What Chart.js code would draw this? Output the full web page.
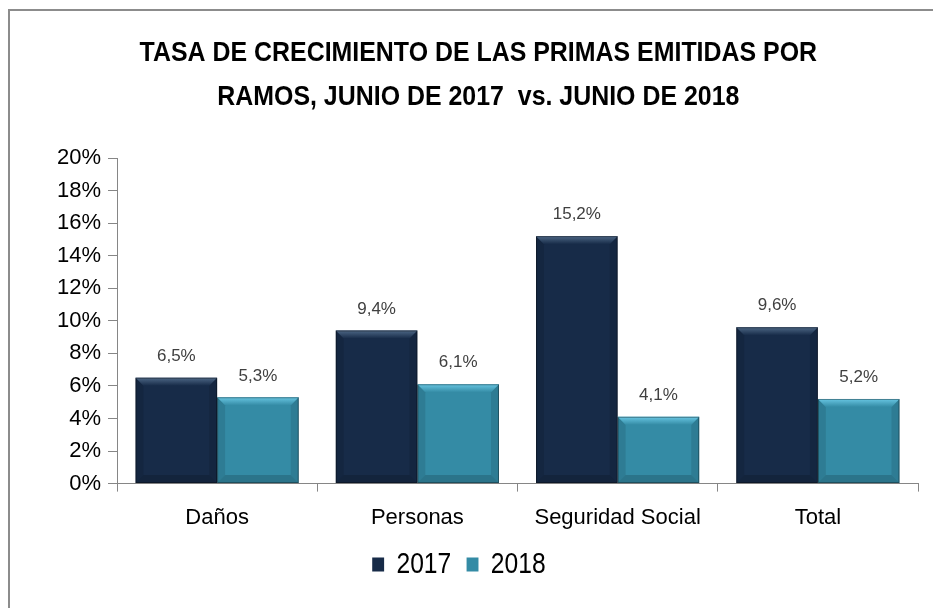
<!DOCTYPE html>
<html>
<head>
<meta charset="utf-8">
<script src="https://cdn.jsdelivr.net/npm/chart.js@4"></script>
<style>
  html, body { margin: 0; padding: 0; background: #fff; overflow: hidden; }
  #frame { position: absolute; left: 8px; top: 9px; width: 1000px; height: 700px; border: 2px solid #8c8c8c; }
  #wrap { position: absolute; left: 0; top: 0; width: 933px; height: 608px; }
</style>
</head>
<body>
<div id="frame"></div>
<div id="wrap"><canvas id="chart"></canvas></div>
<script>
// datos
const categorias = ['Daños', 'Personas', 'Seguridad Social', 'Total'];
const series = ['2017', '2018'];
const valores2017 = [6.5, 9.4, 15.2, 9.6];
const valores2018 = [5.3, 6.1, 4.1, 5.2];
const tituloLineas = ['TASA DE CRECIMIENTO DE LAS PRIMAS EMITIDAS POR', 'RAMOS, JUNIO DE 2017  vs. JUNIO DE 2018'];

const colores = ['#172b48', '#348ba5'];
const bisel = ['#4d6785', '#68c6e2'];

// efecto biselado de las barras
const biselPlugin = {
  id: 'bisel',
  afterDatasetsDraw: function(chart) {
    const ctx = chart.ctx;
    chart.data.datasets.forEach(function(ds, i) {
      chart.getDatasetMeta(i).data.forEach(function(bar) {
        const l = bar.x - bar.width / 2, r = bar.x + bar.width / 2;
        const t = bar.y, b = bar.base, s = 8;
        ctx.save();
        // lados
        ctx.fillStyle = 'rgba(0,0,0,0.10)';
        ctx.beginPath();
        ctx.moveTo(l, t); ctx.lineTo(l + s, t + s); ctx.lineTo(l + s, b - s); ctx.lineTo(l, b);
        ctx.closePath(); ctx.fill();
        ctx.beginPath();
        ctx.moveTo(r, t); ctx.lineTo(r - s, t + s); ctx.lineTo(r - s, b - s); ctx.lineTo(r, b);
        ctx.closePath(); ctx.fill();
        // abajo
        ctx.fillStyle = 'rgba(0,0,0,0.16)';
        ctx.beginPath();
        ctx.moveTo(l, b); ctx.lineTo(l + s, b - s); ctx.lineTo(r - s, b - s); ctx.lineTo(r, b);
        ctx.closePath(); ctx.fill();
        // arriba
        const g = ctx.createLinearGradient(0, t, 0, t + s);
        g.addColorStop(0, bisel[i]);
        g.addColorStop(1, colores[i]);
        ctx.fillStyle = g;
        ctx.beginPath();
        ctx.moveTo(l, t); ctx.lineTo(r, t); ctx.lineTo(r - s, t + s); ctx.lineTo(l + s, t + s);
        ctx.closePath(); ctx.fill();
        ctx.strokeStyle = 'rgba(0,0,0,0.35)';
        ctx.lineWidth = 1;
        ctx.strokeRect(l + 0.5, t + 0.5, bar.width - 1, b - t - 1);
        ctx.restore();
      });
    });
  }
};

// etiquetas de valores
const etiquetasPlugin = {
  id: 'etiquetas',
  afterDatasetsDraw: function(chart) {
    const ctx = chart.ctx;
    ctx.save();
    ctx.font = '17px "Liberation Sans", Arial, sans-serif';
    ctx.fillStyle = '#404040';
    ctx.textAlign = 'center';
    ctx.textBaseline = 'bottom';
    chart.data.datasets.forEach(function(ds, i) {
      chart.getDatasetMeta(i).data.forEach(function(bar, j) {
        ctx.fillText(ds.data[j].toFixed(1).replace('.', ',') + '%', bar.x, bar.y - 13);
      });
    });
    ctx.restore();
  }
};

const ctx = document.getElementById('chart').getContext('2d');
const chart = new Chart(ctx, {
  type: 'bar',
  data: {
    labels: categorias,
    datasets: [{
      label: series[0],
      data: valores2017,
      backgroundColor: colores[0],
      categoryPercentage: 0.815,
      barPercentage: 1
    }, {
      label: series[1],
      data: valores2018,
      backgroundColor: colores[1],
      categoryPercentage: 0.815,
      barPercentage: 1
    }]
  },
  options: {
    responsive: true,
    maintainAspectRatio: false,
    animation: false,
    layout: { padding: { left: 0, right: 15, top: 0, bottom: 7 } },
    plugins: {
      title: {
        display: true,
        text: tituloLineas,
        color: '#000',
        font: { family: '"Liberation Sans", Arial, sans-serif', size: 28, weight: 'bold', lineHeight: 44 / 28 },
        padding: { top: 31, bottom: 39 }
      },
      legend: {
        position: 'bottom',
        labels: {
          color: '#000',
          boxWidth: 14,
          boxHeight: 14,
          padding: 18,
          font: { family: '"Liberation Sans", Arial, sans-serif', size: 29 }
        }
      },
      tooltip: { enabled: false }
    },
    scales: {
      x: {
        grid: { drawOnChartArea: false, drawTicks: true, tickLength: 8, color: '#868686' },
        border: { color: '#868686' },
        ticks: { color: '#000', padding: 13, font: { family: '"Liberation Sans", Arial, sans-serif', size: 22 } }
      },
      y: {
        min: 0,
        max: 20,
        afterFit: function(scale) { scale.width = 117; },
        grid: { drawOnChartArea: false, drawTicks: true, tickLength: 9, color: '#868686' },
        border: { color: '#868686' },
        ticks: {
          stepSize: 2,
          color: '#000',
          padding: 7,
          font: { family: '"Liberation Sans", Arial, sans-serif', size: 22 },
          callback: function(v) { return v + '%'; }
        }
      }
    }
  },
  plugins: [biselPlugin, etiquetasPlugin]
});

// letra estrecha (no hay Arial Narrow): comprimir titulo y leyenda en horizontal
function estrechar(box, centro, destino, escala, dy) {
  const original = box.draw.bind(box);
  box.draw = function() {
    const c = box.ctx;
    c.save();
    c.translate(destino, dy);
    c.scale(escala, 1);
    c.translate(-centro, 0);
    original();
    c.restore();
  };
}
estrechar(chart.titleBlock, 466.5, 485, 0.89, 0);
estrechar(chart.legend, 458.5, 458.5, 0.85, -12);
chart.draw();
</script>
</body>
</html>
